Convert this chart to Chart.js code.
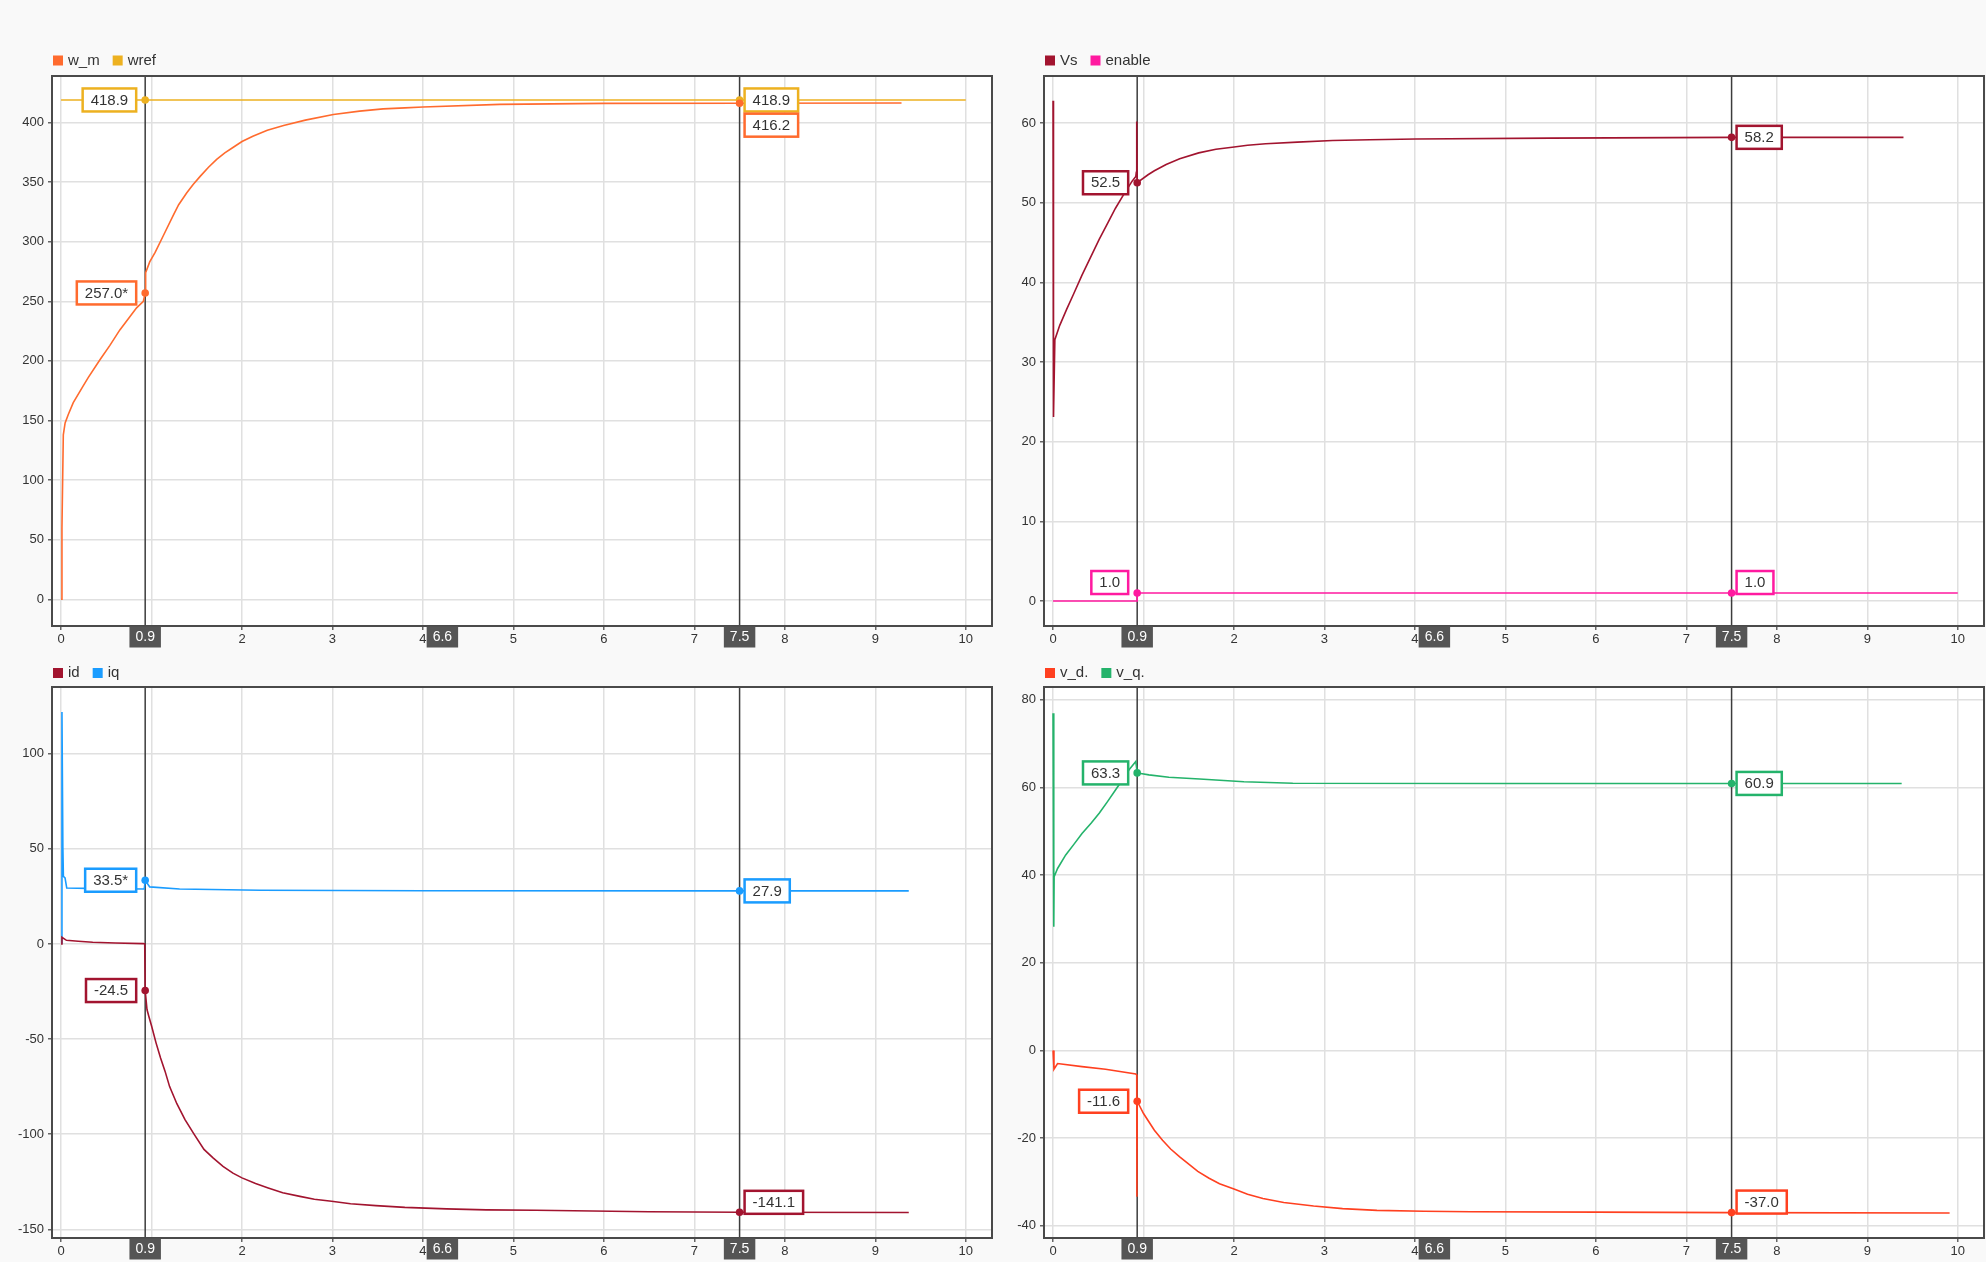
<!DOCTYPE html>
<html><head><meta charset="utf-8">
<script src="https://cdn.jsdelivr.net/npm/chart.js@4.4.1/dist/chart.umd.min.js"></script>
<style>
html,body{margin:0;padding:0;background:#f9f9f9;width:1986px;height:1262px;overflow:hidden}
canvas{position:absolute}
</style></head><body>
<canvas id="c1" width="993" height="620" style="left:0;top:40px"></canvas>
<canvas id="c2" width="993" height="620" style="left:993px;top:40px"></canvas>
<canvas id="c3" width="993" height="611" style="left:0;top:651px"></canvas>
<canvas id="c4" width="993" height="611" style="left:993px;top:651px"></canvas>
<script>
// ---- cursors & ticks ----
const cursorTimes = [0.93, 7.5];
const xTicks = [0,1,2,3,4,5,6,7,8,9,10];
const yTicksTL = [0,50,100,150,200,250,300,350,400];
const yTicksTR = [0,10,20,30,40,50,60];
const yTicksBL = [-150,-100,-50,0,50,100];
const yTicksBR = [-40,-20,0,20,40,60,80];

// ---- top-left: w_m, wref ----
const wmT = [0,0.01,0.025,0.045,0.08,0.135,0.245,0.3,0.43,0.54,0.65,0.75,0.835,0.91,0.93,0.935,0.98,1.04,1.13,1.24,1.3,1.39,1.46,1.54,1.63,1.72,1.81,1.90,2.0,2.12,2.28,2.46,2.7,3.01,3.3,3.56,3.8,4.0,4.85,6.0,7.5,9.29];
const wmV = [0,60,138,148,155,165,179,186,201,213,226,236,244.5,250,257.0,274,283,291,305,322,331,341,348,355,362.5,369,374.5,379,384,388.5,393.5,397.5,402,406.7,409.5,411.4,412.3,413,415.2,416.0,416.2,416.3];
const wrefT = [0,0.93,7.5,10];
const wrefV = [418.9,418.9,418.9,418.9];

// ---- top-right: Vs, enable ----
const vsT = [0,0.005,0.02,0.074,0.15,0.226,0.32,0.417,0.51,0.607,0.69,0.78,0.874,0.915,0.92,0.925,0.93,1.05,1.12,1.25,1.4,1.61,1.8,1.98,2.15,2.35,2.7,3.09,3.5,4.01,5.5,7.5,9.4];
const vsV = [62.8,23.1,32.8,34.6,36.6,38.5,40.9,43.2,45.4,47.5,49.3,51.0,52.7,53.3,53.8,60.2,52.5,53.5,54.0,54.8,55.5,56.25,56.7,56.96,57.2,57.4,57.6,57.8,57.9,58.0,58.1,58.2,58.2];
const enT = [0,0.93,0.93,7.5,10];
const enV = [0,0,1,1,1];

// ---- bottom-left: id, iq ----
const idT = [0,0.01,0.06,0.19,0.35,0.6,0.91,0.925,0.93,0.95,0.97,1.0,1.05,1.1,1.15,1.2,1.28,1.37,1.47,1.58,1.68,1.79,1.9,2.0,2.15,2.29,2.45,2.64,2.8,2.99,3.2,3.48,3.8,4.26,4.7,5.25,6.5,7.5,9.37];
const idV = [0,3.5,1.9,1.4,0.9,0.5,0.2,0,-24.5,-34.5,-38,-43,-52,-60,-67,-75,-84,-92.4,-100,-108,-112.5,-116.9,-120.5,-123,-126,-128.3,-130.8,-132.7,-134.2,-135.3,-136.6,-137.6,-138.5,-139.3,-139.8,-140.0,-140.8,-141.1,-141.2];
const iqT = [0,0.01,0.02,0.026,0.044,0.063,0.3,0.6,0.92,0.93,0.98,1.31,2.2,4.0,7.5,9.37];
const iqV = [0.5,122,51,35.5,34.7,29.4,29.2,29.0,28.9,33.5,30.0,28.9,28.2,28.0,27.9,27.9];

// ---- bottom-right: v_d., v_q. ----
const vdT = [0,0.01,0.05,0.32,0.58,0.915,0.925,0.927,0.93,0.96,1.0,1.05,1.12,1.21,1.3,1.4,1.49,1.6,1.72,1.84,2.0,2.15,2.32,2.55,2.88,3.2,3.58,4.1,4.62,6.0,7.5,9.91];
const vdV = [0,-4.3,-3.0,-3.7,-4.3,-5.4,-5.6,-33.4,-11.6,-12.8,-14.4,-16.0,-18.2,-20.5,-22.5,-24.3,-25.8,-27.6,-29.1,-30.4,-31.6,-32.8,-33.8,-34.7,-35.5,-36.1,-36.5,-36.7,-36.8,-36.9,-37.0,-37.1];
const vqT = [0,0.008,0.012,0.05,0.14,0.23,0.32,0.42,0.51,0.6,0.69,0.77,0.84,0.915,0.93,1.06,1.28,1.62,2.11,2.65,5.0,7.5,9.38];
const vqV = [76.9,28.2,39.6,41.5,44.6,47.0,49.5,51.8,54.1,56.7,59.4,61.8,64.0,65.9,63.3,62.85,62.3,61.9,61.3,60.95,60.9,60.9,60.9];

const FONT = '"Liberation Sans", Arial, sans-serif';
const pts = (t, v) => t.map((x, i) => ({x: x, y: v[i]}));
function valueAt(ds, t) { let v = null; ds.data.forEach(p => { if (p.x === t) v = p.y; }); return v; }

function makePlugin(cfg) {
  return {
    id: 'dip',
    beforeDraw(chart) {
      const a = chart.chartArea, c = chart.ctx;
      c.save(); c.fillStyle = '#ffffff';
      c.fillRect(a.left, a.top, a.right - a.left, a.bottom - a.top);
      c.restore();
    },
    beforeDatasetsDraw(chart) {
      const a = chart.chartArea, c = chart.ctx, xs = chart.scales.x;
      c.save(); c.strokeStyle = '#3c3c3c'; c.lineWidth = 1.5;
      cursorTimes.forEach(t => {
        const x = xs.getPixelForValue(t);
        c.beginPath(); c.moveTo(x, a.top); c.lineTo(x, a.bottom); c.stroke();
      });
      c.restore();
    },
    afterDatasetsDraw(chart) {
      const a = chart.chartArea, c = chart.ctx, xs = chart.scales.x, ys = chart.scales.y;
      const dss = chart.data.datasets;
      c.save();
      c.strokeStyle = '#4a4a4a'; c.lineWidth = 2;
      c.strokeRect(a.left, a.top, a.right - a.left, a.bottom - a.top);
      c.font = '15px ' + FONT; c.textBaseline = 'middle'; c.textAlign = 'center';
      const marks = [];
      cfg.labels.forEach(L => {
        const ds = dss[L.ds], t = cursorTimes[L.c], v = valueAt(ds, t);
        const x = xs.getPixelForValue(t), y = ys.getPixelForValue(v);
        const txt = v.toFixed(1) + (L.star ? '*' : '');
        const w = c.measureText(txt).width + 16, h = 23;
        const bx = L.side === 'left' ? x - 9 - w : x + 5;
        const by = y + (L.dy || 0) - h / 2;
        c.fillStyle = '#ffffff'; c.fillRect(bx, by, w, h);
        c.strokeStyle = ds.borderColor; c.lineWidth = 2.5; c.strokeRect(bx, by, w, h);
        c.fillStyle = '#333333'; c.fillText(txt, bx + w / 2, by + h / 2 + 0.5);
        marks.push([x, y, ds.borderColor]);
      });
      marks.forEach(m => { c.fillStyle = m[2]; c.beginPath(); c.arc(m[0], m[1], 3.8, 0, Math.PI * 2); c.fill(); });
      c.font = '14px ' + FONT;
      const box = (x, txt) => {
        const w = c.measureText(txt).width + 12, h = 21;
        c.fillStyle = '#555555'; c.fillRect(x - w / 2, a.bottom + 0.5, w, h);
        c.fillStyle = '#ffffff'; c.fillText(txt, x, a.bottom + 0.5 + h / 2 + 0.5);
      };
      const x0 = xs.getPixelForValue(cursorTimes[0]), x1 = xs.getPixelForValue(cursorTimes[1]);
      box(x0, cursorTimes[0].toFixed(1));
      box((x0 + x1) / 2, (cursorTimes[1] - cursorTimes[0]).toFixed(1));
      box(x1, cursorTimes[1].toFixed(1));
      c.font = '15px ' + FONT; c.textAlign = 'left';
      let lx = a.left + 1;
      const ly = cfg.legendY;
      dss.forEach(ds => {
        c.fillStyle = ds.borderColor; c.fillRect(lx, ly - 5, 10, 10);
        c.fillStyle = '#333333'; c.fillText(ds.label, lx + 15, ly);
        lx += 15 + c.measureText(ds.label).width + 13;
      });
      c.restore();
    }
  };
}

function makeChart(id, datasets, yMin, yMax, yTicks, yW, xH, padTop, padRight, cfg) {
  return new Chart(document.getElementById(id), {
    type: 'line',
    data: { datasets: datasets.map(d => Object.assign({
      borderWidth: 1.6, pointRadius: 0, tension: 0, fill: false
    }, d)) },
    options: {
      responsive: false, animation: false, devicePixelRatio: 1,
      layout: { autoPadding: false, padding: { top: padTop, right: padRight, bottom: 0, left: 0 } },
      plugins: { legend: { display: false }, tooltip: { enabled: false } },
      scales: {
        x: {
          type: 'linear', min: -0.1, max: 10.29,
          afterBuildTicks: s => { s.ticks = xTicks.map(v => ({ value: v })); },
          afterFit: s => { s.height = xH; },
          grid: { color: '#e0e0e0', lineWidth: 1.5, tickLength: 4, tickColor: '#666' },
          border: { display: false },
          ticks: { autoSkip: false, maxRotation: 0, padding: 2, color: '#333', font: { size: 13, family: FONT } }
        },
        y: {
          type: 'linear', min: yMin, max: yMax,
          afterBuildTicks: s => { s.ticks = yTicks.map(v => ({ value: v })); },
          afterFit: s => { s.width = yW; },
          grid: { color: '#e0e0e0', lineWidth: 1.5, tickLength: 4, tickColor: '#666' },
          border: { display: false },
          ticks: { padding: 4, color: '#333', font: { size: 13, family: FONT } }
        }
      }
    },
    plugins: [makePlugin(cfg)]
  });
}

makeChart('c1', [
  { label: 'w_m', data: pts(wmT, wmV), borderColor: '#ff6b2e' },
  { label: 'wref', data: pts(wrefT, wrefV), borderColor: '#edb120' }
], -22.4, 439, yTicksTL, 52, 34, 36, 1, {
  legendY: 20.5,
  labels: [
    { ds: 1, c: 0, side: 'left', dy: 0 },
    { ds: 0, c: 0, side: 'left', dy: 0, star: true },
    { ds: 1, c: 1, side: 'right', dy: 0 },
    { ds: 0, c: 1, side: 'right', dy: 22 }
  ]
});

makeChart('c2', [
  { label: 'Vs', data: pts(vsT, vsV), borderColor: '#a2142f' },
  { label: 'enable', data: pts(enT, enV), borderColor: '#ff1aa0' }
], -3.14, 65.9, yTicksTR, 51, 34, 36, 2, {
  legendY: 20.5,
  labels: [
    { ds: 0, c: 0, side: 'left', dy: 0 },
    { ds: 1, c: 0, side: 'left', dy: -10.5 },
    { ds: 0, c: 1, side: 'right', dy: 0 },
    { ds: 1, c: 1, side: 'right', dy: -10.5 }
  ]
});

makeChart('c3', [
  { label: 'id', data: pts(idT, idV), borderColor: '#a2142f' },
  { label: 'iq', data: pts(iqT, iqV), borderColor: '#1a9cff' }
], -154.6, 135.1, yTicksBL, 52, 24, 36, 1, {
  legendY: 22,
  labels: [
    { ds: 1, c: 0, side: 'left', dy: 0, star: true },
    { ds: 0, c: 0, side: 'left', dy: 0 },
    { ds: 1, c: 1, side: 'right', dy: 0 },
    { ds: 0, c: 1, side: 'right', dy: -10 }
  ]
});

makeChart('c4', [
  { label: 'v_d.', data: pts(vdT, vdV), borderColor: '#ff4020' },
  { label: 'v_q.', data: pts(vqT, vqV), borderColor: '#24b36b' }
], -42.8, 82.9, yTicksBR, 51, 24, 36, 2, {
  legendY: 22,
  labels: [
    { ds: 1, c: 0, side: 'left', dy: 0 },
    { ds: 0, c: 0, side: 'left', dy: 0 },
    { ds: 1, c: 1, side: 'right', dy: 0 },
    { ds: 0, c: 1, side: 'right', dy: -10.5 }
  ]
});
</script>
</body></html>
